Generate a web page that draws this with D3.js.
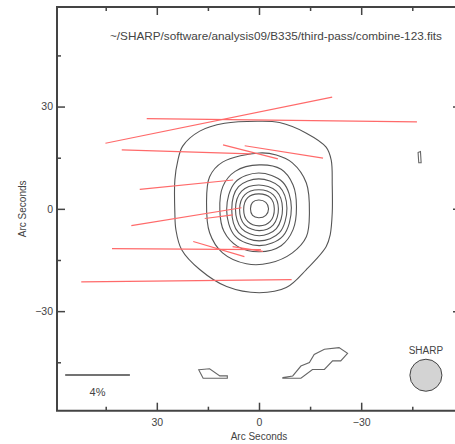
<!DOCTYPE html>
<html>
<head>
<meta charset="utf-8">
<script src="https://cdn.jsdelivr.net/npm/d3@7"></script>
<style>
  body { margin: 0; background: #fff; }
  svg text { font-family: "Liberation Sans", Arial, sans-serif; fill: #444; }
</style>
</head>
<body>
<svg id="chart" width="455" height="444"></svg>
<script>
// map title (the fits file path)
const title = '~/SHARP/software/analysis09/B335/third-pass/combine-123.fits'

// axis ticks, arcsec offsets
const majorTicks = [30, 0, -30]
const minorTicks = [45, 15, -15, -45]

// polarization vectors: offset (arcsec), degree (%), position angle (deg E of N)
const vecX  = [11.8, -6.7, 21.3, 2.5, -7.3, 21.3, 21.3, 11.8, 21.3, 3.3, 11.8, 21.3]
const vecY  = [26.0, 26.0, 16.7, 16.7, 16.7, 7.1, -2.3, -2.3, -11.8, -11.8, -11.8, -21.1]
const vecP  = [14.3, 16.7, 8.0, 3.5, 4.9, 5.8, 6.9, 1.75, 9.2, 1.9, 3.3, 13.0]
const vecPA = [101.5, 89.3, 88.2, 75.7, 81.1, 95.7, 99.2, 97.4, 89.6, 81.1, 73.5, 90.6]

const contourMain = [
  [[-0.1, 25.7], [-6.0, 25.3], [-13.9, 22.2], [-19.7, 18.1], [-21.2, 14.3], [-21.5, 7.0], [-21.5, -1.2],
   [-20.9, -7.6], [-19.7, -11.1], [-13.9, -17.8], [-8.0, -23.1], [-0.1, -24.6], [9.5, -22.8],
   [17.4, -17.8], [22.7, -12.0], [24.4, -6.1], [24.7, -1.2], [24.7, 8.5], [23.8, 14.3], [22.4, 18.4],
   [17.4, 22.8], [10.1, 25.1]],
  [[-0.1, 16.4], [-5.1, 15.8], [-9.8, 13.5], [-13.9, 7.6], [-14.8, -1.2], [-13.9, -8.2], [-9.8, -12.9],
   [-3.1, -15.9], [3.7, -16.1], [10.7, -12.9], [14.5, -7.0], [15.4, 1.8], [14.5, 9.4], [10.7, 13.7]],
  [[-0.1, 12.9], [-6.5, 11.6], [-10.0, 7.0], [-11.0, 0.6], [-10.0, -6.1], [-6.5, -10.8], [-0.1, -12.6],
   [6.3, -11.0], [10.3, -6.6], [11.5, -0.3], [10.6, 6.6], [7.0, 11.0]],
  [[0.1, 10.5], [-7.0, 7.8], [-9.5, 0.3], [-7.0, -8.0], [-0.1, -10.8], [7.0, -8.0], [9.5, -0.3], [7.0, 7.8]],
  [[0.1, 8.8], [-6.0, 6.5], [-8.2, 0.2], [-6.0, -7.0], [-0.1, -9.4], [6.0, -7.0], [8.0, -0.2], [6.0, 6.5]],
  [[0.1, 7.0], [-5.1, 5.2], [-6.9, 0.1], [-5.1, -5.8], [-0.1, -7.9], [5.1, -5.8], [6.9, -0.2], [5.1, 5.2]],
  [[0.1, 5.6], [-4.2, 4.1], [-5.7, 0.0], [-4.2, -4.7], [-0.1, -6.4], [4.2, -4.7], [5.7, -0.2], [4.2, 4.1]],
  [[0.1, 4.4], [-3.3, 3.3], [-4.5, 0.0], [-3.3, -3.7], [-0.1, -5.0], [3.3, -3.7], [4.5, -0.2], [3.3, 3.3]],
  [[0.1, 2.6], [-2.0, 1.9], [-2.8, 0.0], [-2.0, -1.9], [0.1, -2.6], [1.9, -1.9], [2.5, 0.0], [1.9, 1.9]]
]

// small noise patches at the lowest level
const contourPatches = [
  [[-46.7, 16.5], [-47.4, 16.8], [-47.6, 13.5], [-46.9, 13.5]],
  [[17.7, -47.2], [14.5, -46.9], [11.5, -49.0], [9.3, -49.0], [9.3, -49.7], [16.4, -49.7]],
  [[-7.0, -49.5], [-9.9, -49.0], [-12.3, -46.1], [-14.8, -45.1], [-16.2, -42.7], [-19.2, -41.2],
   [-23.5, -40.7], [-26.0, -42.4], [-24.0, -44.6], [-21.6, -44.6], [-19.2, -47.1], [-15.7, -47.1],
   [-12.3, -49.7], [-7.0, -49.7]]
]

// 4% reference bar and SHARP beam
const scaleBar = { x: 47.4, y: -48.7, p: 4, label: '4%' }
const beam = { x: -49.0, y: -48.8, r: 4.7, label: 'SHARP' }
const arcsecPerPercent = 4.75

const svg = d3.select('#chart')
const x = d3.scaleLinear().domain([59.3, -59.3]).range([57, 461])
const y = d3.scaleLinear().domain([-59.2, 59.2]).range([410.7, 7])

// contours
const smooth = d3.line().x(d => x(d[0])).y(d => y(d[1])).curve(d3.curveCatmullRomClosed.alpha(0.5))
const straight = d3.line().x(d => x(d[0])).y(d => y(d[1])).curve(d3.curveLinearClosed)

svg.append('g')
  .selectAll('path')
  .data(contourMain)
  .enter()
  .append('path')
  .attr('d', smooth)
  .attr('fill', 'none')
  .attr('stroke', '#555')
  .attr('stroke-width', 1.1)

svg.append('g')
  .selectAll('path')
  .data(contourPatches)
  .enter()
  .append('path')
  .attr('d', straight)
  .attr('fill', 'none')
  .attr('stroke', '#666')
  .attr('stroke-width', 1.1)

// polarization vectors
const half = i => vecP[i] * arcsecPerPercent / 2
const rad = i => vecPA[i] * Math.PI / 180

svg.append('g')
  .selectAll('line')
  .data(d3.range(vecX.length))
  .enter()
  .append('line')
  .attr('x1', i => x(vecX[i] + half(i) * Math.sin(rad(i))))
  .attr('y1', i => y(vecY[i] + half(i) * Math.cos(rad(i))))
  .attr('x2', i => x(vecX[i] - half(i) * Math.sin(rad(i))))
  .attr('y2', i => y(vecY[i] - half(i) * Math.cos(rad(i))))
  .attr('stroke', '#ff6a6a')
  .attr('stroke-width', 1.2)

// 4% bar
const barHalf = scaleBar.p * arcsecPerPercent / 2
svg.append('line')
  .attr('x1', x(scaleBar.x + barHalf))
  .attr('x2', x(scaleBar.x - barHalf))
  .attr('y1', y(scaleBar.y))
  .attr('y2', y(scaleBar.y))
  .attr('stroke', '#444')
  .attr('stroke-width', 1.5)
svg.append('text')
  .attr('x', x(scaleBar.x))
  .attr('y', y(scaleBar.y) + 21)
  .attr('text-anchor', 'middle')
  .attr('font-size', 11)
  .text(scaleBar.label)

// beam
svg.append('circle')
  .attr('cx', x(beam.x))
  .attr('cy', y(beam.y))
  .attr('r', x(0) - x(beam.r))
  .attr('fill', '#d3d3d3')
  .attr('stroke', '#444')
  .attr('stroke-width', 1)
svg.append('text')
  .attr('x', x(beam.x))
  .attr('y', y(beam.y) - 21)
  .attr('text-anchor', 'middle')
  .attr('font-size', 10)
  .text(beam.label)

// frame + ticks (pointing inward)
const [x0, x1] = x.range()
const [yb, yt] = y.range()
svg.append('path')
  .attr('d', `M${x1},${yt}H${x0}V${yb}H${x1}V${yt}`)
  .attr('fill', 'none')
  .attr('stroke', '#444')
  .attr('stroke-width', 2)

const tickStyle = g => {
  g.select('.domain').remove()
  g.selectAll('.tick line').attr('stroke', '#444').attr('stroke-width', 1.5)
  g.selectAll('.tick text').attr('fill', '#444').attr('font-size', 10.5)
    .style('font-family', '"Liberation Sans", Arial, sans-serif')
}
const fmt = d => d < 0 ? '\u2212' + Math.abs(d) : String(d)

svg.append('g').attr('transform', `translate(0,${yb})`)
  .call(d3.axisBottom(x).tickValues(majorTicks).tickSize(-8).tickPadding(8).tickFormat(fmt))
  .call(tickStyle)
svg.append('g').attr('transform', `translate(0,${yb})`)
  .call(d3.axisBottom(x).tickValues(minorTicks).tickSize(-4).tickFormat(''))
  .call(tickStyle)
svg.append('g').attr('transform', `translate(0,${yt})`)
  .call(d3.axisTop(x).tickValues(majorTicks).tickSize(-8).tickFormat(''))
  .call(tickStyle)
svg.append('g').attr('transform', `translate(0,${yt})`)
  .call(d3.axisTop(x).tickValues(minorTicks).tickSize(-4).tickFormat(''))
  .call(tickStyle)
svg.append('g').attr('transform', `translate(${x0},0)`)
  .call(d3.axisLeft(y).tickValues(majorTicks).tickSize(-8).tickPadding(4).tickFormat(fmt))
  .call(tickStyle)
svg.append('g').attr('transform', `translate(${x0},0)`)
  .call(d3.axisLeft(y).tickValues(minorTicks).tickSize(-4).tickFormat(''))
  .call(tickStyle)
svg.append('g').attr('transform', `translate(${x1},0)`)
  .call(d3.axisRight(y).tickValues(majorTicks).tickSize(-8).tickFormat(''))
  .call(tickStyle)
svg.append('g').attr('transform', `translate(${x1},0)`)
  .call(d3.axisRight(y).tickValues(minorTicks).tickSize(-4).tickFormat(''))
  .call(tickStyle)

// axis titles
svg.append('text')
  .attr('x', x(0))
  .attr('y', 439.5)
  .attr('text-anchor', 'middle')
  .attr('font-size', 10)
  .text('Arc Seconds')
svg.append('text')
  .attr('transform', `translate(26,${y(0)}) rotate(-90)`)
  .attr('text-anchor', 'middle')
  .attr('font-size', 10)
  .text('Arc Seconds')

// file path
svg.append('text')
  .attr('x', 110)
  .attr('y', 40)
  .attr('font-size', 11)
  .attr('textLength', 332)
  .attr('lengthAdjust', 'spacingAndGlyphs')
  .text(title)
</script>
</body>
</html>
